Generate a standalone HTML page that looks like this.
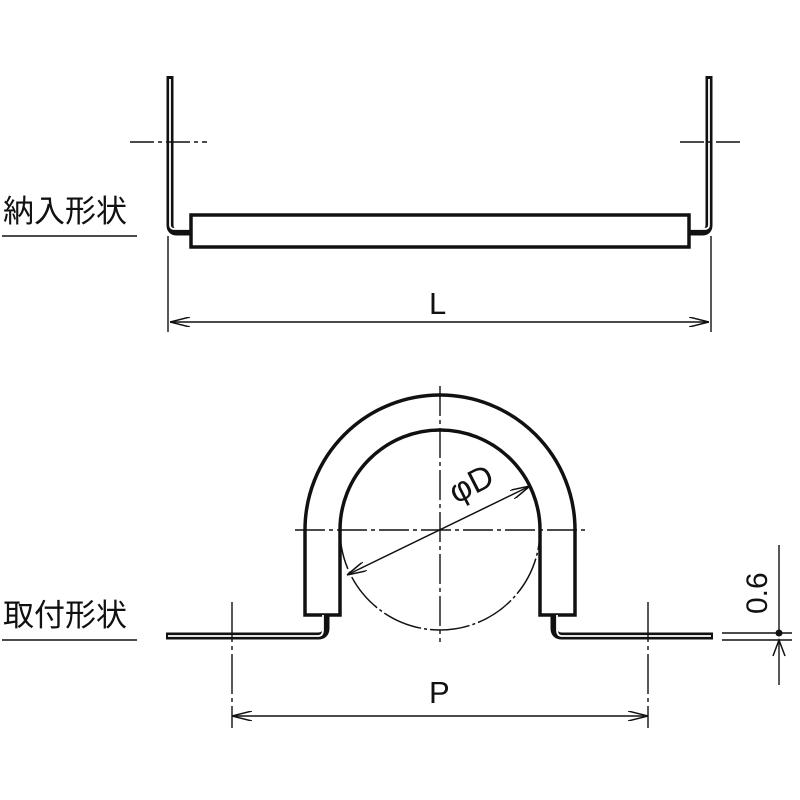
<!DOCTYPE html>
<html><head><meta charset="utf-8"><style>body{margin:0;background:#fff}svg{display:block}</style></head><body>
<svg width="800" height="800" viewBox="0 0 800 800" xmlns="http://www.w3.org/2000/svg" font-family="'Liberation Sans','Noto Sans CJK JP',sans-serif">
<defs>
<marker id="a" viewBox="0 0 20 10" refX="20" refY="5" markerWidth="20" markerHeight="10" markerUnits="userSpaceOnUse" orient="auto-start-reverse"><path d="M0,0 L20,5 L0,10" fill="none" stroke="#111" stroke-width="1.5"/></marker>
</defs>
<g fill="none" stroke="#111">
<path d="M170,76 V225 Q170,232 177,232 H190" stroke-width="7"/>
<path d="M170,79 V225 Q170,229 175,229 H190" stroke="#fff" stroke-width="1.8"/>
<path d="M709,76 V225 Q709,232 702,232 H690" stroke-width="7"/>
<path d="M709,79 V225 Q709,229 704,229 H690" stroke="#fff" stroke-width="1.8"/>
<rect x="191" y="215" width="498" height="32" stroke-width="3.5"/>
<path d="M130,142 H207 M680,142 H742" stroke-width="1.5" stroke-dasharray="24,4,4,4"/>
<path d="M168,236 V332 M711,236 V332" stroke-width="1.4"/>
<path d="M170,322 H709" stroke-width="1.5" marker-start="url(#a)" marker-end="url(#a)"/>
<path d="M2,236 H137 M2,640 H137" stroke-width="1.4"/>
<path d="M305,615 V530 A135,135 0 0 1 575,530 V615 H540 V530 A100,100 0 0 0 340,530 V615 Z" stroke-width="3.5"/>
<path d="M340,530 A100,100 0 0 1 540,530" stroke-width="1.5"/>
<path d="M340,530 A100,100 0 0 0 540,530" stroke-width="1.5" stroke-dasharray="40,3,3,3"/>
<path d="M295,530 H587" stroke-width="1.4" stroke-dasharray="30,4,4,4"/>
<path d="M440,386 V642" stroke-width="1.4" stroke-dasharray="30,4,4,4"/>
<path d="M166,636 H318 Q326,636 326,628 V615" stroke-width="7"/>
<path d="M168,636 H318 Q323,636 323,630 V615" stroke="#fff" stroke-width="1.8"/>
<path d="M713,636 H562 Q554,636 554,628 V615" stroke-width="7"/>
<path d="M711,636 H562 Q557,636 557,630 V615" stroke="#fff" stroke-width="1.8"/>
<path d="M232,602 V728 M648,602 V728" stroke-width="1.4" stroke-dasharray="40,4,4,4"/>
<path d="M232,716 H648" stroke-width="1.5" marker-start="url(#a)" marker-end="url(#a)"/>
<path d="M347,575 L530,486" stroke-width="1.5" marker-start="url(#a)" marker-end="url(#a)"/>
<path d="M722,633 H792 M722,640 H792" stroke-width="1.4"/>
<path d="M779,545 V633 M779,685 V640" stroke-width="1.4"/>
<path d="M773,656 L779,640 L785,656" stroke-width="1.5"/>
</g>
<circle cx="779" cy="633" r="3.5" fill="#111"/>
<g fill="#111">
<text x="3" y="222" font-size="31">納入形状</text>
<text x="3" y="626" font-size="31">取付形状</text>
<text x="429" y="314" font-size="31">L</text>
<text x="429" y="703" font-size="31">P</text>
<text x="456" y="504" font-size="33" transform="rotate(-27 456 504)">φD</text>
<text x="767" y="614" font-size="30" transform="rotate(-90 767 614)">0.6</text>
</g>
</svg>
</body></html>
